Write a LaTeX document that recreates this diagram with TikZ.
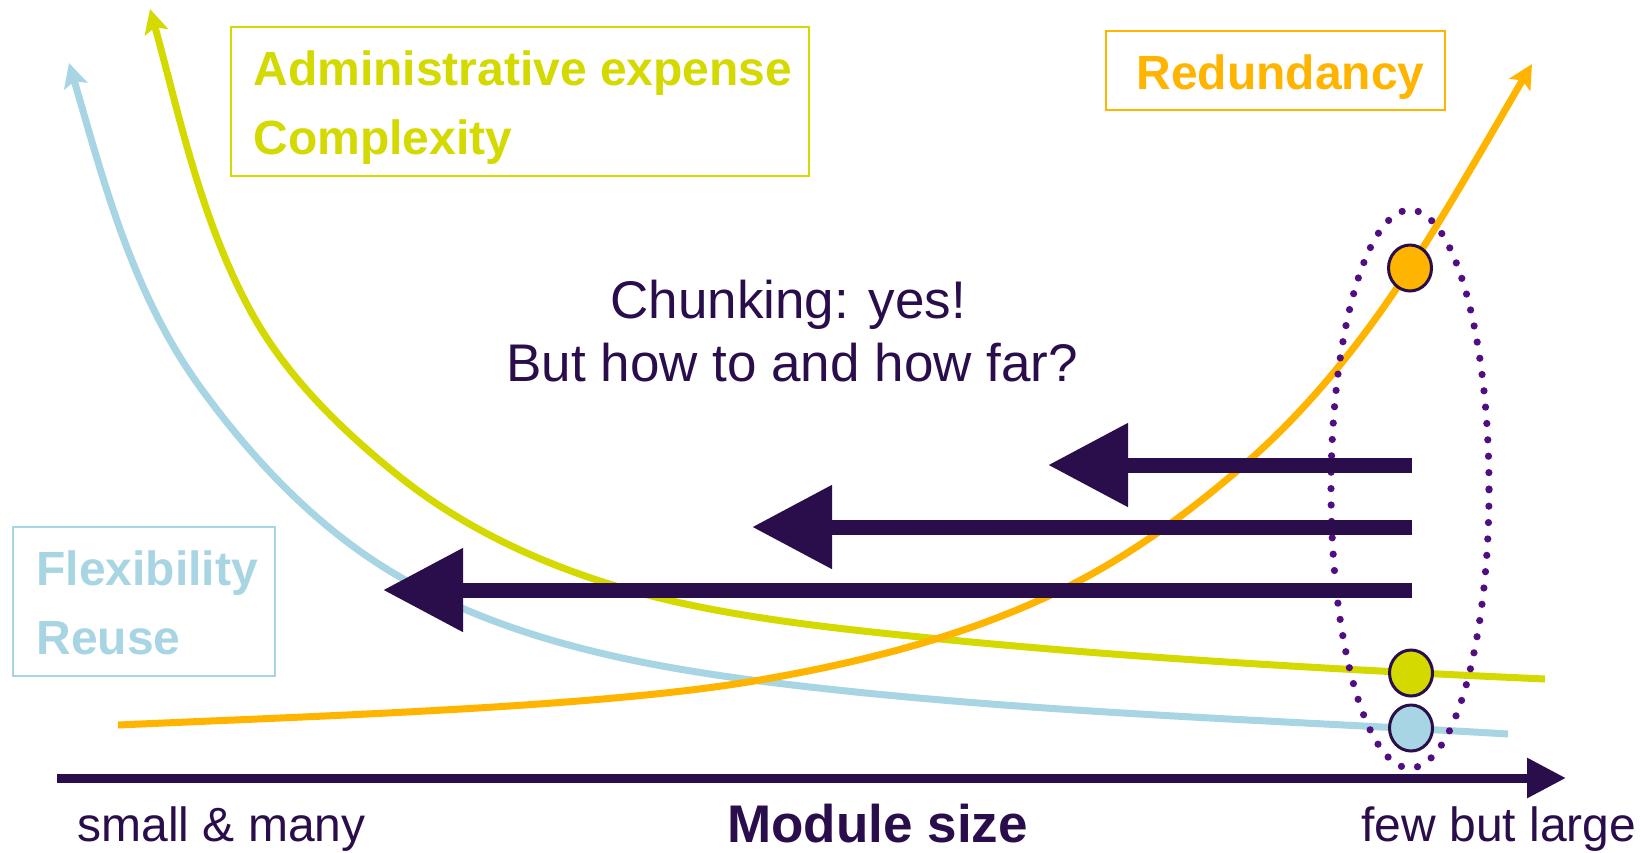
\documentclass[tikz,border=0pt]{standalone}
\usepackage{fontspec}
\setmainfont{Liberation Sans}
\usetikzlibrary{arrows.meta,shapes.geometric}
\definecolor{cgreen}{RGB}{212,217,0}
\definecolor{corange}{RGB}{255,180,0}
\definecolor{cblue}{RGB}{168,213,227}
\definecolor{cdark}{RGB}{42,14,76}
\definecolor{cdot}{RGB}{80,14,130}
\begin{document}
\begin{tikzpicture}[x=0.5pt,y=-0.5pt,
  curve/.style={line width=3.5pt, line cap=butt, -{Stealth[length=12pt,width=12pt,inset=2.5pt]}},
  bigarrow/.style={cdark, line width=7.5pt, -{Triangle[length=40pt,width=40pt]}},
  axisarrow/.style={cdark, line width=4.5pt, -{Triangle[length=19.5pt,width=19pt]}},
  labelbox/.style={draw, line width=1pt, inner sep=0pt, fill=none},
  lbl/.style={anchor=base west, inner sep=0pt, font=\fontsize{24}{24}\selectfont},
  lblbold/.style={lbl, font=\fontsize{24}{24}\selectfont\bfseries},
  biglbl/.style={anchor=base west, inner sep=0pt, text=cdark, font=\fontsize{26.5}{26.5}\selectfont},
  dotnode/.style={ellipse, draw=cdark, line width=1.5pt, minimum width=21.5pt, minimum height=23pt, inner sep=0pt},
  dottedring/.style={cdot, line width=3.6pt, line cap=round, dash pattern=on 0pt off 8.2pt}
]
\useasboundingbox[fill=white] (0,0) rectangle (1641,852);

% ---- label boxes
\node[labelbox, draw=cgreen, minimum width=289pt, minimum height=74.5pt] (admbox) at (520,101.5) {};
\node[lblbold, text=cgreen] (adm) at (253,85) {Administrative expense};
\node[lblbold, text=cgreen] (cpx) at (253,154) {Complexity};

\node[labelbox, draw=corange, minimum width=169.5pt, minimum height=39.5pt] (redbox) at (1275.5,70.5) {};
\node[lblbold, text=corange] (red) at (1136,89) {Redundancy};

\node[labelbox, draw=cblue, minimum width=131.25pt, minimum height=74.5pt] (flexbox) at (143.75,601.5) {};
\node[lblbold, text=cblue] (flex) at (36,585) {Flexibility};
\node[lblbold, text=cblue] (reuse) at (36,654) {Reuse};

% ---- curves
\coordinate (bS) at (1508,734); \coordinate (bE) at (69,63);
\coordinate (gS) at (1545,679); \coordinate (gE) at (150,9);
\coordinate (oS) at (118,725);  \coordinate (oE) at (1532,64);

\draw[curve, cblue] (bS) .. controls (1258,719) and (1000,712) .. (752,680)
  .. controls (631,664) and (505.5,638) .. (400,577)
  .. controls (320,531) and (254,461.5) .. (200,387)
  .. controls (131,292) and (102,175) .. (bE);

\draw[curve, cgreen] (gS) .. controls (1340,669.8) and (1134,658.4) .. (930,638)
  .. controls (853.4,630.3) and (775.5,622.1) .. (700,607)
  .. controls (593.1,585.6) and (485.2,545.1) .. (400,477)
  .. controls (341.4,430.1) and (285.7,376) .. (250,310)
  .. controls (199.6,216.8) and (178.4,111.1) .. (gE);

\draw[curve, corange] (oS) .. controls (330,715.5) and (600,707) .. (754,681)
  .. controls (857.5,663.4) and (962.5,637.4) .. (1057,592)
  .. controls (1125.5,559.1) and (1187.6,513.9) .. (1245,464)
  .. controls (1309.2,408.2) and (1364,339.3) .. (1410,268)
  .. controls (1452.7,201.7) and (1491.9,132.2) .. (oE);

% ---- dotted ring
\draw[dottedring] (1410,489) ellipse [x radius=39.5pt, y radius=139.5pt];

% ---- chunking arrows
\coordinate (a1s) at (1412,465); \coordinate (a1e) at (1048,465);
\coordinate (a2s) at (1412,527); \coordinate (a2e) at (752,527);
\coordinate (a3s) at (1412,590); \coordinate (a3e) at (383,590);
\draw[bigarrow] (a1s) -- (a1e);
\draw[bigarrow] (a2s) -- (a2e);
\draw[bigarrow] (a3s) -- (a3e);

% ---- axis
\coordinate (axS) at (57,778); \coordinate (axE) at (1566,778);
\draw[axisarrow] (axS) -- (axE);

% ---- dots
\node[dotnode, fill=corange] (dotR) at (1410,268) {};
\node[dotnode, fill=cgreen] (dotG) at (1411,673) {};
\node[dotnode, fill=cblue] (dotB) at (1411,728) {};

% ---- texts
\node[biglbl] (chunk1) at (610,318) {Chunking: yes!};
\node[biglbl] (chunk2) at (506,381) {But how to and how far?};
\node[lbl, text=cdark] (small) at (77,841) {small \& many};
\node[biglbl, font=\fontsize{26.5}{26.5}\selectfont\bfseries] (msize) at (727,842) {Module size};
\node[lbl, text=cdark] (large) at (1361,841) {few but large};
\end{tikzpicture}
\end{document}
